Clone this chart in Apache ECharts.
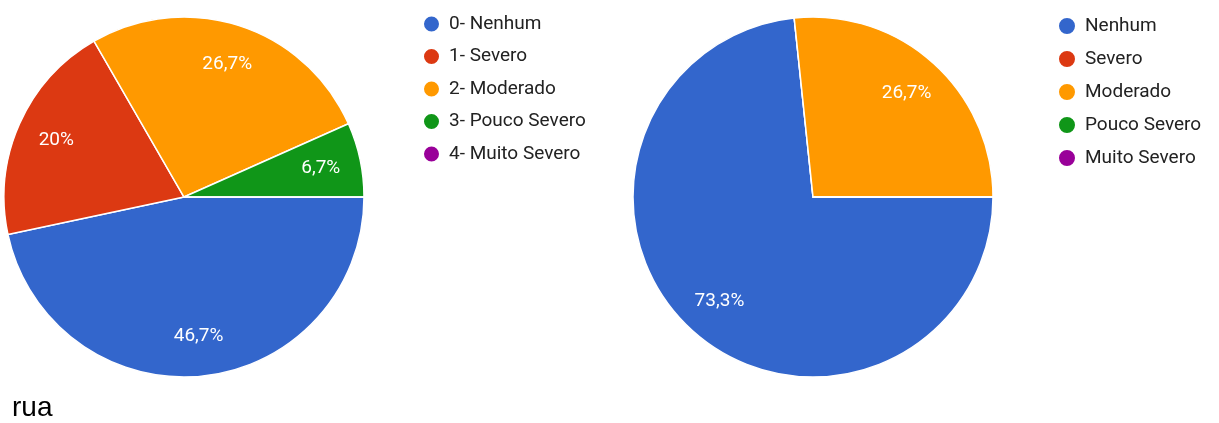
<!DOCTYPE html>
<html>
<head>
<meta charset="utf-8">
<script src="https://cdn.jsdelivr.net/npm/echarts@6/dist/echarts.min.js"></script>
<style>
  html, body { margin: 0; padding: 0; background: #fff; }
  #chart { width: 1219px; height: 423px; }
</style>
</head>
<body>
<div id="chart"></div>
<script>
// Response counts per severity level (15 respondents each)
const leftCategories = ['0- Nenhum', '1- Severo', '2- Moderado', '3- Pouco Severo', '4- Muito Severo'];
const leftCounts = [7, 3, 4, 1, 0];
const rightCategories = ['Nenhum', 'Severo', 'Moderado', 'Pouco Severo', 'Muito Severo'];
const rightCounts = [11, 0, 4, 0, 0];
const caption = 'rua';

const palette = ['#3366cc', '#dc3912', '#ff9900', '#109618', '#990099'];
const FONT = 'Roboto, "Noto Sans", sans-serif';
const R = 180;

function toData(names, counts) {
  return names.map((n, i) => ({ name: n, value: counts[i] }));
}

// Percent text with a comma as decimal separator, one decimal place
function pctLabel(params) {
  if (!params.value) return '';
  const total = params.data.total;
  let s = (params.value / total * 100).toFixed(1);
  if (s.endsWith('.0')) s = s.slice(0, -2);
  return s.replace('.', ',') + '%';
}

function pieSeries(names, counts, center) {
  const total = counts.reduce((a, b) => a + b, 0);
  const data = toData(names, counts);
  const labelData = data.map(d => ({ name: d.name, value: d.value, total: total }));
  return [
    {
      type: 'pie',
      center: center,
      radius: [0, R],
      startAngle: 0,
      clockwise: true,
      silent: true,
      label: { show: false },
      labelLine: { show: false },
      itemStyle: { borderColor: '#ffffff', borderWidth: 1.5 },
      emphasis: { disabled: true },
      data: data
    },
    {
      // transparent ring that places the percentage labels
      type: 'pie',
      center: center,
      radius: [R * 0.52, R],
      startAngle: 0,
      clockwise: true,
      silent: true,
      itemStyle: { color: 'transparent', borderWidth: 0 },
      label: {
        show: true,
        position: 'inside',
        formatter: pctLabel,
        color: '#ffffff',
        fontFamily: FONT,
        fontSize: 19
      },
      labelLine: { show: false },
      emphasis: { disabled: true },
      data: labelData
    }
  ];
}

function legendFor(names, left, top, iconH, iconW, fontSize, gap) {
  return {
    orient: 'vertical',
    left: left,
    top: top,
    icon: 'circle',
    itemWidth: iconW,
    itemHeight: iconH,
    itemGap: gap,
    selectedMode: false,
    data: names,
    textStyle: { color: '#222222', fontFamily: FONT, fontSize: fontSize, lineHeight: iconH }
  };
}

const chart = echarts.init(document.getElementById('chart'), null, { renderer: 'canvas' });
chart.setOption({
  animation: false,
  color: palette,
  legend: [
    legendFor(leftCategories, 417, 9.5, 17, 25, 19, 13.5),
    legendFor(rightCategories, 1052, 11, 18, 26, 19, 13)
  ],
  graphic: [{
    type: 'text',
    style: {
      text: caption,
      x: 12,
      y: 408,
      verticalAlign: 'middle',
      font: '28px "Liberation Sans", Arial, sans-serif',
      fill: '#000000'
    }
  }],
  series: [
    ...pieSeries(leftCategories, leftCounts, [184, 197]),
    ...pieSeries(rightCategories, rightCounts, [813, 197])
  ]
});
</script>
</body>
</html>
